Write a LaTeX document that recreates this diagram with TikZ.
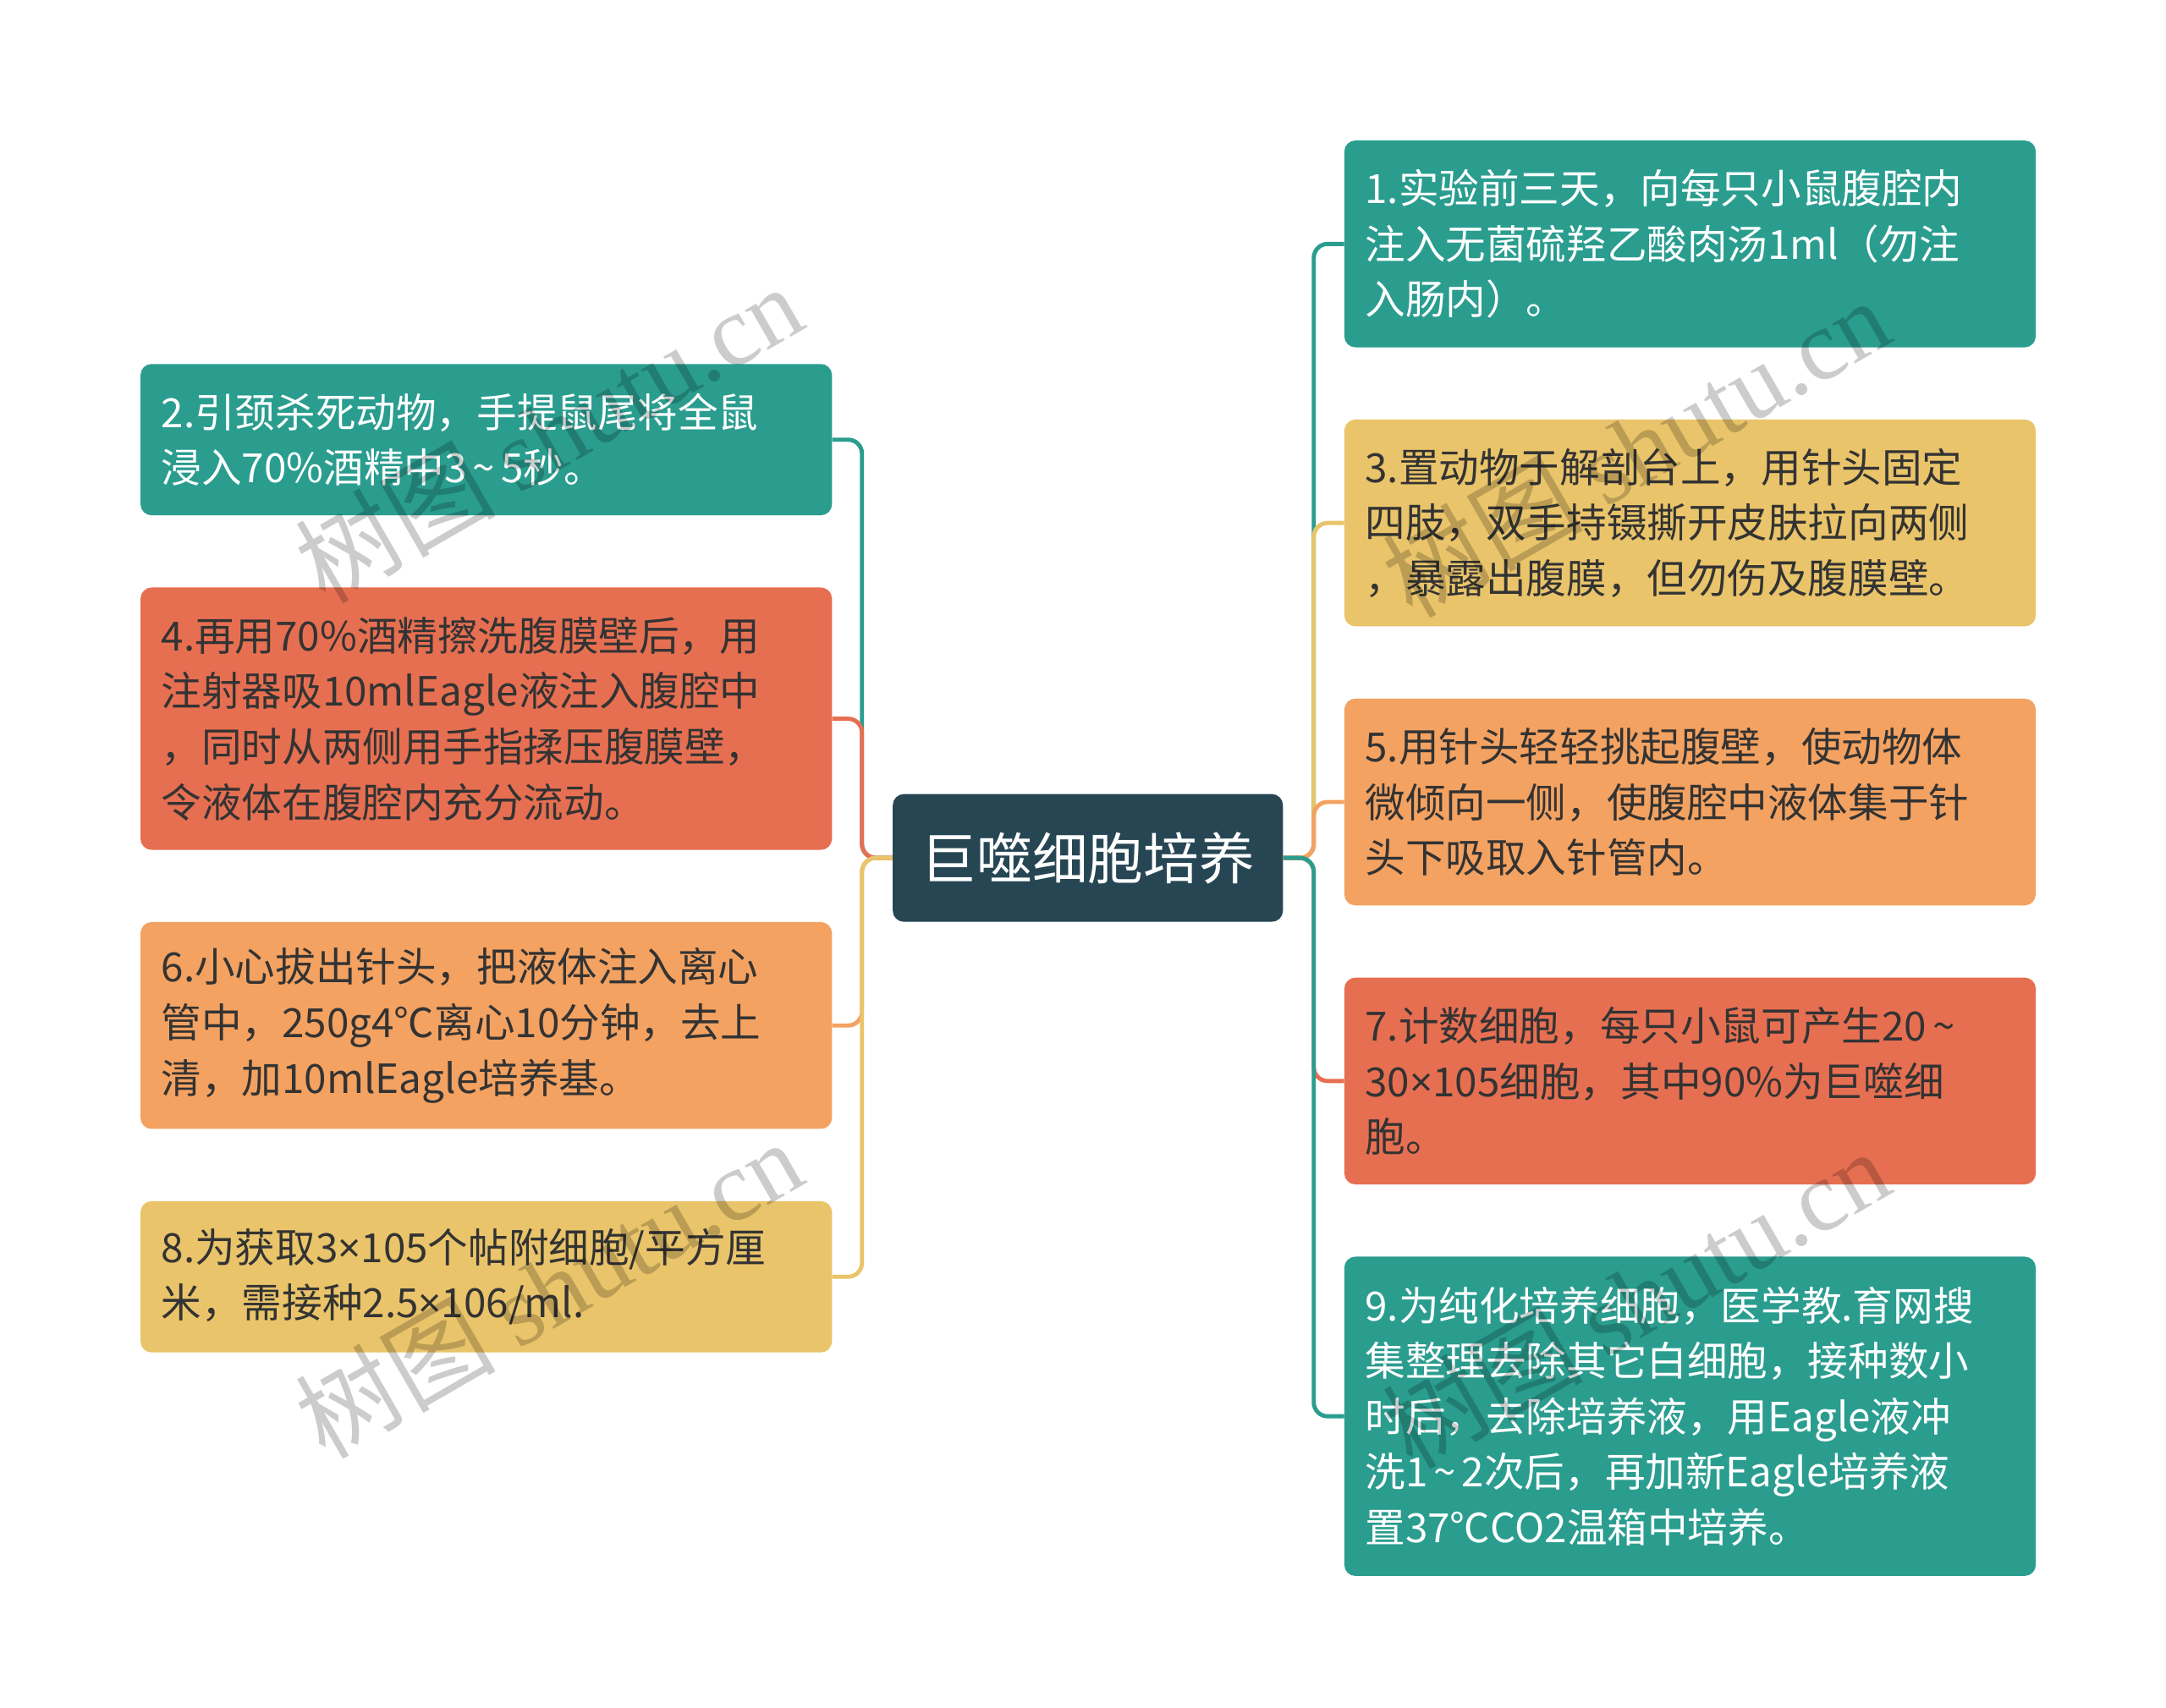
\documentclass[tikz,border=0pt]{standalone}
\usepackage{fontspec}
\setmainfont{Noto Sans CJK SC}
\newfontfamily\wmcjk{Noto Sans CJK SC}
\newfontfamily\wmlat{Liberation Serif}
\newfontfamily\latfont{Noto Sans}
\newcommand{\tld}{\makebox[0.85em]{\textasciitilde}}
\newcommand{\tms}{{\latfont ×}}
\definecolor{cteal}{HTML}{2A9D8F}
\definecolor{cdark}{HTML}{274654}
\definecolor{cyel}{HTML}{E9C46A}
\definecolor{corg}{HTML}{F4A261}
\definecolor{cred}{HTML}{E76F51}
\definecolor{ctxt}{HTML}{333333}
\begin{document}
\begin{tikzpicture}[x=1pt,y=-1pt,
  box/.style={rectangle, rounded corners=8pt, minimum width=498pt, text width=468pt,
    inner xsep=15pt, inner ysep=0pt, align=left, anchor=north west,
    font=\fontsize{29}{40}\selectfont, text=ctxt},
  conn/.style={line width=3pt, rounded corners=10pt},
  wm/.style={rotate=30, text=black, text opacity=0.2, font=\fontsize{72}{72}\selectfont}]
\useasboundingbox (0,0) rectangle (1560,1230);
\fill[white] (0,0) rectangle (1560,1230);

\node[rectangle, rounded corners=8pt, fill=cdark, text=white, minimum width=281pt, minimum height=92pt,
  font=\fontsize{40}{48}\selectfont] (c) at (783.5,618) {巨噬细胞培养};

% left
\node[box, fill=cteal, text=white, minimum height=109pt] (n2) at (101,262)
  {2.引颈杀死动物，手提鼠尾将全鼠\\浸入70\%酒精中3\tld5秒。};
\node[box, fill=cred, minimum height=189pt] (n4) at (101,423)
  {4.再用70\%酒精擦洗腹膜壁后，用\\注射器吸10mlEagle液注入腹腔中\\，同时从两侧用手指揉压腹膜壁，\\令液体在腹腔内充分流动。};
\node[box, fill=corg, minimum height=149pt] (n6) at (101,664)
  {6.小心拔出针头，把液体注入离心\\管中，250g4℃离心10分钟，去上\\清，加10mlEagle培养基。};
\node[box, fill=cyel, minimum height=109pt] (n8) at (101,865)
  {8.为获取3\tms105个帖附细胞/平方厘\\米，需接种2.5\tms106/ml.};

% right
\node[box, fill=cteal, text=white, minimum height=149pt] (n1) at (968,101)
  {1.实验前三天，向每只小鼠腹腔内\\注入无菌硫羟乙酸肉汤1ml（勿注\\入肠内）。};
\node[box, fill=cyel, minimum height=149pt] (n3) at (968,302)
  {3.置动物于解剖台上，用针头固定\\四肢，双手持镊撕开皮肤拉向两侧\\，暴露出腹膜，但勿伤及腹膜壁。};
\node[box, fill=corg, minimum height=149pt] (n5) at (968,503)
  {5.用针头轻轻挑起腹壁，使动物体\\微倾向一侧，使腹腔中液体集于针\\头下吸取入针管内。};
\node[box, fill=cred, minimum height=149pt] (n7) at (968,704)
  {7.计数细胞，每只小鼠可产生20\tld\\30\tms105细胞，其中90\%为巨噬细\\胞。};
\node[box, fill=cteal, text=white, minimum height=230pt] (n9) at (968,905)
  {9.为纯化培养细胞，医学教.育网搜\\集整理去除其它白细胞，接种数小\\时后，去除培养液，用Eagle液冲\\洗1\tld2次后，再加新Eagle培养液\\置37℃CO2温箱中培养。};

% connectors left
\draw[conn, cteal] (c.west) -- ++(-22,0) |- (n2.east);
\draw[conn, cred] (c.west) -- ++(-22,0) |- (n4.east);
\draw[conn, corg] (c.west) -- ++(-22,0) |- (n6.east);
\draw[conn, cyel] (c.west) -- ++(-22,0) |- (n8.east);
% connectors right
\draw[conn, cteal] (c.east) -- ++(22,0) |- (n1.west);
\draw[conn, cyel] (c.east) -- ++(22,0) |- (n3.west);
\draw[conn, corg] (c.east) -- ++(22,0) |- (n5.west);
\draw[conn, cred] (c.east) -- ++(22,0) |- (n7.west);
\draw[conn, cteal] (c.east) -- ++(22,0) |- (n9.west);

% watermarks
\node[wm] (w1) at (395,312) {{\wmcjk 树图} {\wmlat shutu.cn}};
\node[wm] (w2) at (395,928) {{\wmcjk 树图} {\wmlat shutu.cn}};
\node[wm] (w3) at (1178,322) {{\wmcjk 树图} {\wmlat shutu.cn}};
\node[wm] (w4) at (1178,935) {{\wmcjk 树图} {\wmlat shutu.cn}};
\end{tikzpicture}
\end{document}
